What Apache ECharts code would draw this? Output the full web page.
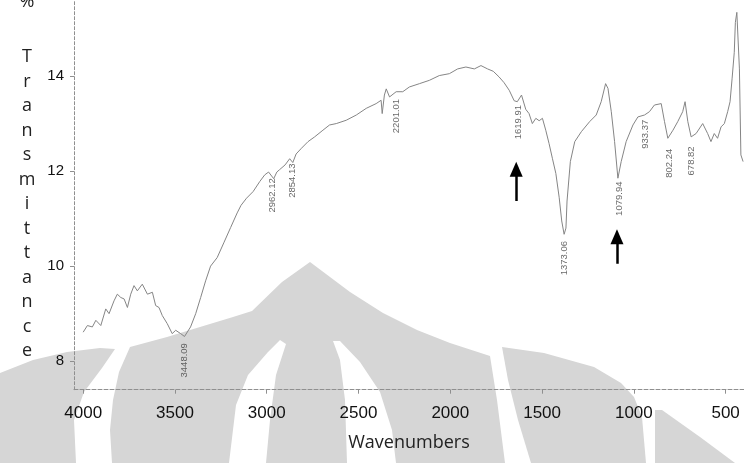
<!DOCTYPE html>
<html>
<head>
<meta charset="utf-8">
<script src="https://cdn.jsdelivr.net/npm/echarts@6/dist/echarts.min.js"></script>
<style>html,body{margin:0;padding:0;background:#fff}#c{width:744px;height:463px}</style>
</head>
<body>
<div id="c"></div>
<script>
// Wavenumbers (cm-1) and %Transmittance
const wavenumbers = [4000,3977,3950,3931,3904,3877,3859,3832,3814,3795,3777,3759,3741,3723,3705,3678,3650,3623,3605,3587,3569,3542,3515,3496,3469,3448,3415,3387,3360,3333,3306,3270,3234,3197,3161,3140,3110,3074,3038,3011,2990,2962,2945,2930,2900,2875,2858,2840,2811,2775,2739,2694,2658,2621,2567,2512,2458,2404,2377,2371,2359,2349,2331,2295,2259,2223,2168,2114,2060,2005,1960,1915,1869,1833,1797,1766,1734,1707,1679,1652,1635,1612,1589,1571,1553,1534,1516,1498,1480,1462,1444,1425,1407,1393,1380,1370,1364,1346,1322,1286,1241,1205,1178,1154,1141,1123,1105,1087,1069,1042,1005,978,942,915,888,851,833,815,787,761,734,721,706,688,661,625,598,580,562,544,525,507,489,476,465,453,447,439,425,417,405];
const transmittance = [8.61,8.75,8.72,8.86,8.75,9.10,9.00,9.27,9.41,9.34,9.31,9.13,9.41,9.59,9.48,9.62,9.41,9.45,9.17,9.13,8.96,8.79,8.58,8.65,8.58,8.52,8.72,9.00,9.34,9.69,10.00,10.18,10.49,10.81,11.12,11.28,11.43,11.57,11.78,11.92,11.98,11.84,11.98,12.03,12.13,12.26,12.18,12.36,12.48,12.62,12.72,12.86,12.97,13.00,13.07,13.18,13.32,13.42,13.49,13.21,13.60,13.73,13.56,13.67,13.67,13.77,13.84,13.91,14.01,14.05,14.15,14.19,14.15,14.22,14.15,14.10,13.98,13.86,13.70,13.48,13.46,13.60,13.30,13.21,13.00,13.11,13.06,13.11,12.86,12.58,12.27,11.95,11.45,10.95,10.67,10.80,11.37,12.20,12.62,12.83,13.04,13.18,13.46,13.84,13.74,13.25,12.62,11.85,12.20,12.62,12.97,13.14,13.18,13.25,13.39,13.42,13.04,12.69,12.86,13.04,13.25,13.46,13.04,12.72,12.79,13.00,12.79,12.62,12.79,12.69,12.93,13.00,13.25,13.46,13.94,14.50,15.13,15.34,14.15,12.34,12.20];

// Peak annotations: label text and the point where each label starts
const peakLabels = ['3448.09','2962.12','2854.13','2201.01','1619.91','1373.06','1079.94','933.37','802.24','678.82'];
const peakLabelWn = [3451,2967,2859,2293,1630,1380,1081,935,804,685];
const peakLabelT  = [8.38,11.85,12.16,13.52,13.39,10.53,11.78,13.08,12.47,12.52];

// Arrows (wavenumber, tail T, head T)
const arrowWn   = [1641,1092];
const arrowTail = [11.37,10.05];
const arrowHead = [12.04,10.62];

const xTicks = [4000,3500,3000,2500,2000,1500,1000,500];
const yTicks = [8,10,12,14];
const yTitle = 'Transmittance';

const chart = echarts.init(document.getElementById('c'), null, {renderer:'canvas'});

const wm = '#d6d6d6';
const poly = (pts, fill) => ({type:'polygon', z:-10, silent:true, shape:{points:pts}, style:{fill:fill}});

const option = {
  animation:false,
  backgroundColor:'#fff',
  grid:{left:74, right:0, top:-2.5, bottom:73.3, containLabel:false},
  xAxis:{
    type:'value', inverse:true, min:400, max:4050,
    name:'Wavenumbers', nameLocation:'middle', nameGap:44,
    nameTextStyle:{fontFamily:'Open Sans', fontSize:18, color:'#222'},
    axisLine:{show:true, onZero:false, lineStyle:{color:'#8f8f8f', width:1, type:[4,2]}},
    axisTick:{show:true, length:4, customValues:xTicks, lineStyle:{color:'#8f8f8f'}},
    axisLabel:{customValues:xTicks, margin:15, formatter:v=>String(v), fontFamily:'Liberation Sans', fontSize:17, color:'#111'},
    splitLine:{show:false}
  },
  yAxis:{
    type:'value', min:7.4, max:15.6,
    axisLine:{show:true, onZero:false, lineStyle:{color:'#8f8f8f', width:1, type:[3,2]}},
    axisTick:{show:true, length:4, customValues:yTicks, lineStyle:{color:'#8f8f8f'}},
    axisLabel:{customValues:yTicks, margin:10, formatter:v=>String(v), fontFamily:'Liberation Sans', fontSize:15, color:'#111'},
    splitLine:{show:false}
  },
  graphic:[
    // watermark (background logo)
    poly([[0,373],[33,360],[67,352],[100,348],[115,349],[102,368],[84,392],[74,420],[76,463],[0,463]], wm),
    poly([[130,347],[167,337],[200,327],[233,317],[252,311],[282,282],[310,262],[350,292],[383,313],[417,330],[450,343],[490,356],[497,400],[505,463],[112,463],[110,430],[113,400],[119,372]], wm),
    poly([[280,340],[268,352],[248,375],[236,405],[229,463],[266,463],[270,420],[276,375],[286,344]], '#ffffff'),
    poly([[333,341],[340,360],[345,400],[347,463],[396,463],[392,430],[380,392],[360,362],[340,341]], '#ffffff'),
    poly([[502,347],[544,353],[594,367],[621,383],[634,397],[642,417],[646,463],[531,463],[518,420],[508,380]], wm),
    poly([[655,410],[662,410],[700,437],[735,463],[655,463]], wm),
    {type:'text', z:5, style:{text:'%', x:27, y:2, align:'center', verticalAlign:'middle', fontFamily:'Open Sans', fontSize:18, fill:'#222'}},
    {type:'text', z:5, style:{text:yTitle.split('').join('\n'), x:27, y:45, align:'center', verticalAlign:'top', lineHeight:24.5, fontFamily:'Open Sans', fontSize:18, fill:'#222'}}
  ],
  series:[
    {
      type:'line', data:wavenumbers.map((w,i)=>[w, transmittance[i]]),
      showSymbol:false, symbol:'none', smooth:false,
      lineStyle:{color:'#858585', width:1}, z:3
    },
    {
      type:'scatter', symbolSize:0, z:4,
      data:peakLabelWn.map((w,i)=>({value:[w, peakLabelT[i]], name:peakLabels[i]})),
      label:{show:true, position:'inside', rotate:90, align:'right', verticalAlign:'middle',
        formatter:p=>p.name, fontFamily:'Liberation Sans', fontSize:9.5, color:'#444'},
      markLine:{
        silent:true, symbol:['none','triangle'], symbolSize:[13,15], label:{show:false},
        lineStyle:{color:'#000', width:2.5, type:'solid'},
        data:arrowWn.map((w,i)=>[{coord:[w, arrowTail[i]]},{coord:[w, arrowHead[i]]}])
      }
    }
  ]
};
chart.setOption(option);
</script>
</body>
</html>
